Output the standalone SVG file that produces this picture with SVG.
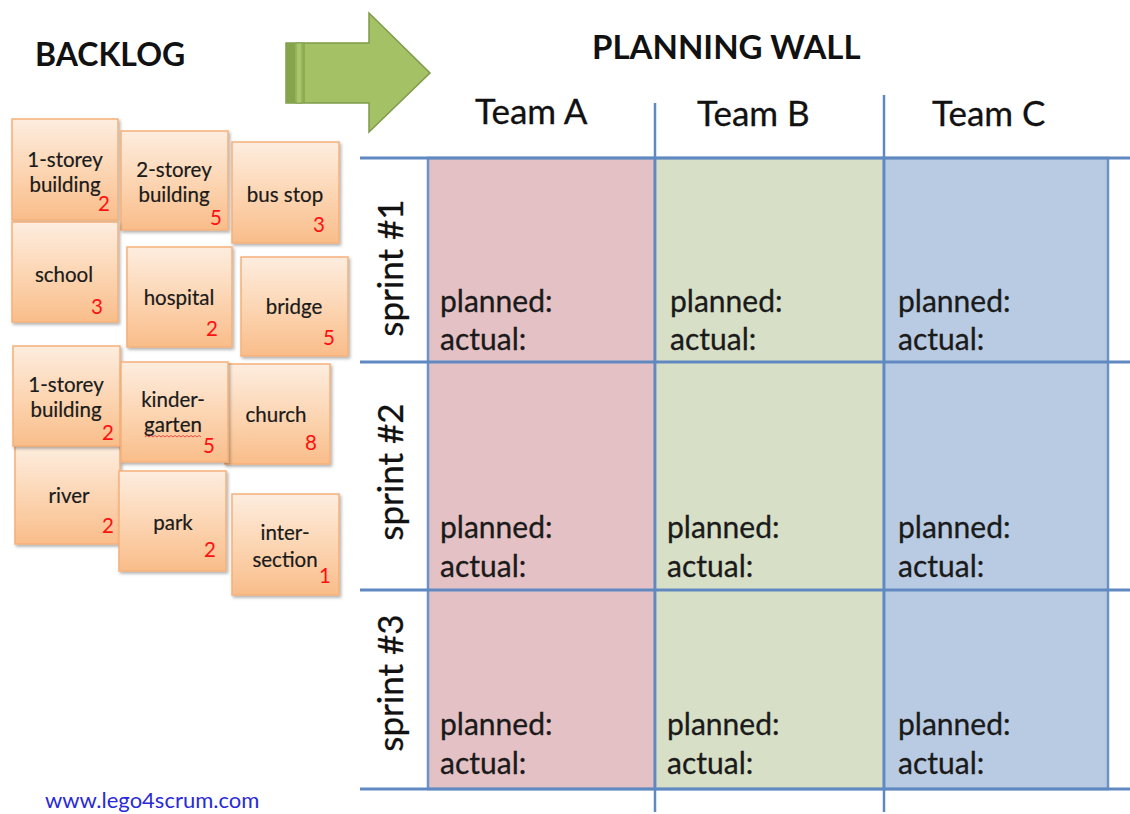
<svg xmlns="http://www.w3.org/2000/svg" width="1130" height="814" viewBox="0 0 1130 814">
<style>
.title{font-family:Lato,"Open Sans",sans-serif;font-weight:bold;font-size:32px;fill:#111}
.team{font-family:Lato,"Open Sans",sans-serif;font-size:35px;fill:#111;stroke:#111;stroke-width:0.3}
.cell{font-family:Lato,"Open Sans",sans-serif;font-size:30px;fill:#1a1a1a;stroke:#1a1a1a;stroke-width:0.3}
.sprint{font-family:Lato,"Open Sans",sans-serif;font-size:35px;fill:#111;stroke:#111;stroke-width:0.3}
.card rect{fill:url(#cardGrad);stroke:#f5b07a;stroke-width:1.5;filter:url(#shadow)}
.ct{font-family:Lato,"Open Sans",sans-serif;font-size:20.5px;fill:#1a1a1a;text-anchor:middle;stroke:#1a1a1a;stroke-width:0.2}
.num{font-family:Lato,"Open Sans",sans-serif;font-size:20.5px;fill:#ff1010;text-anchor:middle}
.hline{stroke:#6089c2;stroke-width:3}
.vline{stroke:#6089c2;stroke-width:2.5}
.col{stroke:#6c93c8;stroke-width:2.5}
.link{font-family:Lato,"Open Sans",sans-serif;font-size:22px;fill:#2a2ad6}
</style>
<defs>
<linearGradient id="cardGrad" x1="0" y1="0" x2="0" y2="1">
<stop offset="0" stop-color="#fdeddf"/>
<stop offset="0.5" stop-color="#fcd6b4"/>
<stop offset="1" stop-color="#f9bd8a"/>
</linearGradient>
<filter id="shadow" x="-10%" y="-10%" width="125%" height="125%">
<feDropShadow dx="1.5" dy="2" stdDeviation="1.5" flood-color="#000" flood-opacity="0.3"/>
</filter>
</defs>
<rect width="1130" height="814" fill="#fff"/>

<text class="title" x="35" y="66">BACKLOG</text>
<text class="title" x="592" y="59" style="font-size:33px">PLANNING WALL</text>

<g id="arrow">
<path d="M286,43 L369,43 L369,13 L430,73 L369,132 L369,103 L286,103 Z" fill="#a4c165" stroke="#7f9b4a" stroke-width="1.5"/>
<rect x="286" y="43" width="9" height="60" fill="#86a44c"/>
<rect x="296" y="43" width="6" height="60" fill="#a9c66b" stroke="#7f9b4a" stroke-width="0.8"/>
<line x1="304" y1="43" x2="304" y2="103" stroke="#86a44c" stroke-width="1.5"/>
</g>

<g id="wall">
<rect id="colA" class="col" x="428" y="158" width="227" height="631" fill="#e4c1c4"/>
<rect id="colB" class="col" x="655" y="158" width="229" height="631" fill="#d8dfc7"/>
<rect id="colC" class="col" x="884" y="158" width="224" height="631" fill="#b9cbe2"/>
</g>

<g id="gridlines">
<line class="hline" x1="360" y1="158" x2="1130" y2="158"/>
<line class="hline" x1="360" y1="362" x2="1130" y2="362"/>
<line class="hline" x1="360" y1="590" x2="1130" y2="590"/>
<line class="hline" x1="360" y1="789" x2="1130" y2="789"/>
<line class="vline" x1="655" y1="103" x2="655" y2="812"/>
<line class="vline" x1="884" y1="95" x2="884" y2="812"/>
</g>

<g id="teams">
<text class="team" x="475" y="124">Team A</text>
<text class="team" x="697" y="126">Team B</text>
<text class="team" x="932" y="126">Team C</text>
</g>

<g id="sprints">
<text class="sprint" transform="translate(403,268) rotate(-90)" text-anchor="middle">sprint #1</text>
<text class="sprint" transform="translate(403,472) rotate(-90)" text-anchor="middle">sprint #2</text>
<text class="sprint" transform="translate(403,683) rotate(-90)" text-anchor="middle">sprint #3</text>
</g>

<g id="cells">
<text class="cell" x="440" y="312">planned:</text><text class="cell" x="440" y="350">actual:</text>
<text class="cell" x="670" y="312">planned:</text><text class="cell" x="670" y="350">actual:</text>
<text class="cell" x="898" y="312">planned:</text><text class="cell" x="898" y="350">actual:</text>
<text class="cell" x="440" y="538">planned:</text><text class="cell" x="440" y="577">actual:</text>
<text class="cell" x="667" y="538">planned:</text><text class="cell" x="667" y="577">actual:</text>
<text class="cell" x="898" y="538">planned:</text><text class="cell" x="898" y="577">actual:</text>
<text class="cell" x="440" y="735">planned:</text><text class="cell" x="440" y="774">actual:</text>
<text class="cell" x="667" y="735">planned:</text><text class="cell" x="667" y="774">actual:</text>
<text class="cell" x="898" y="735">planned:</text><text class="cell" x="898" y="774">actual:</text>
</g>

<g id="card1" class="card"><rect x="12" y="119" width="106" height="101"/><text class="ct" x="65" y="167">1-storey</text><text class="ct" x="65" y="192">building</text><text class="num" x="104" y="211">2</text></g>
<g id="card2" class="card"><rect x="121" y="131" width="107" height="99"/><text class="ct" x="174" y="177">2-storey</text><text class="ct" x="174" y="202">building</text><text class="num" x="216" y="225">5</text></g>
<g id="card3" class="card"><rect x="232" y="142" width="107" height="101"/><text class="ct" x="285" y="202">bus stop</text><text class="num" x="319" y="232">3</text></g>
<g id="card4" class="card"><rect x="12" y="222" width="106" height="100"/><text class="ct" x="64" y="282">school</text><text class="num" x="97" y="314">3</text></g>
<g id="card5" class="card"><rect x="127" y="247" width="105" height="100"/><text class="ct" x="179" y="305">hospital</text><text class="num" x="212" y="336">2</text></g>
<g id="card6" class="card"><rect x="241" y="257" width="107" height="99"/><text class="ct" x="294" y="314">bridge</text><text class="num" x="329" y="345">5</text></g>
<g id="card10" class="card"><rect x="15" y="446" width="105" height="98"/><text class="ct" x="69" y="503">river</text><text class="num" x="108" y="533">2</text></g>
<g id="card7" class="card"><rect x="13" y="346" width="107" height="100"/><text class="ct" x="66" y="392">1-storey</text><text class="ct" x="66" y="417">building</text><text class="num" x="108" y="440">2</text></g>
<g id="card9" class="card"><rect x="225" y="364" width="105" height="100"/><text class="ct" x="276" y="422">church</text><text class="num" x="311" y="450">8</text></g>
<g id="card8" class="card"><rect x="121" y="362" width="107" height="100"/><text class="ct" x="173" y="407">kinder-</text><text class="ct" x="173" y="432">garten</text><path d="M145,437 l2,-1.5 l2,1.5 l2,-1.5 l2,1.5 l2,-1.5 l2,1.5 l2,-1.5 l2,1.5 l2,-1.5 l2,1.5 l2,-1.5 l2,1.5 l2,-1.5 l2,1.5 l2,-1.5 l2,1.5 l2,-1.5 l2,1.5 l2,-1.5 l2,1.5 l2,-1.5 l2,1.5 l2,-1.5 l2,1.5 l2,-1.5 l2,1.5 l2,-1.5 l2,1.5" fill="none" stroke="#e03030" stroke-width="0.8"/><text class="num" x="209" y="453">5</text></g>
<g id="card11" class="card"><rect x="119" y="471" width="107" height="100"/><text class="ct" x="173" y="530">park</text><text class="num" x="210" y="557">2</text></g>
<g id="card12" class="card"><rect x="232" y="494" width="107" height="101"/><text class="ct" x="285" y="540">inter-</text><text class="ct" x="285" y="567">section</text><text class="num" x="325" y="583">1</text></g>

<text class="link" x="45" y="808">www.lego4scrum.com</text>
</svg>
